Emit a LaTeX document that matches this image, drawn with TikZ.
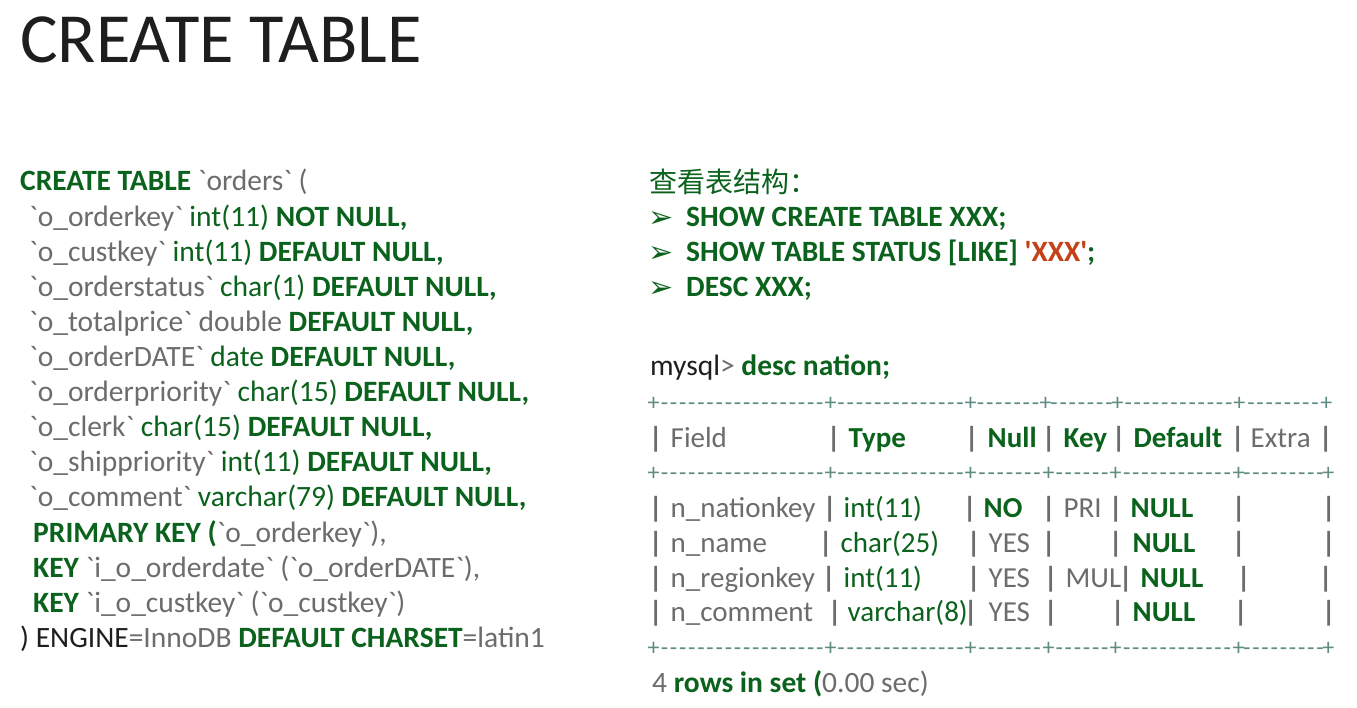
\documentclass[tikz,border=0pt]{standalone}
\usepackage{fontspec}
\setmainfont{Carlito}[Ligatures=TeXOff]
\newfontfamily\cjk{Noto Sans CJK SC}
\newfontfamily\dejavu{DejaVu Sans}
\definecolor{gr}{RGB}{10,98,28}
\definecolor{gy}{RGB}{108,108,108}
\definecolor{dk}{RGB}{30,30,30}
\definecolor{rd}{RGB}{196,64,22}
\definecolor{dashc}{RGB}{95,140,130}
\newcommand\B[1]{\textcolor{gr}{\bfseries #1}}
\newcommand\G[1]{\textcolor{gr}{#1}}
\newcommand\R[1]{\textcolor{gy}{#1}}
\newcommand\vb[1]{\rlap{\hspace*{#1pt}\makebox[0pt]{\textcolor{gy}{\bfseries|}}}}
\newcommand\tx[2]{\rlap{\hspace*{#1pt}#2}}
\newcommand\dseg[2]{\rlap{\hspace*{#1pt}\makebox[0pt]{+}}\rlap{\hspace*{#1pt}\hbox to \dimexpr#2pt-#1pt\relax{\hskip3pt\cleaders\hbox{\kern0.9pt-\kern0.9pt}\hfill\hskip3pt}}}
\newcommand\dplus[1]{\rlap{\hspace*{#1pt}\makebox[0pt]{+}}}
\tikzset{
  txt/.style={anchor=base west, inner sep=0pt, font=\fontsize{29.5}{32}\selectfont},
  tbl/.style={anchor=base west, inner sep=0pt, font=\fontsize{29}{32}\selectfont},
  dashrow/.style={anchor=base west, inner sep=0pt, font=\fontsize{24}{28}\selectfont, text=dashc},
  bul/.style={anchor=base west, inner sep=0pt, font=\dejavu\fontsize{30}{32}\selectfont, text=gr},
}
\begin{document}
\begin{tikzpicture}[x=1pt,y=-1pt]
\useasboundingbox[fill=white] (0,0) rectangle (1357,708);
% title
\node[anchor=base west, inner sep=0pt, font=\fontsize{70.5}{80}\selectfont, text=dk] (title) at (20,63) {CREATE TABLE};
% left code
\node[txt] (l0) at (20,191) {\B{CREATE TABLE} \R{`orders` (}};
\node[txt] (l1) at (29,226.1) {\R{`o\_orderkey`} \G{int(11)} \B{NOT NULL,}};
\node[txt] (l2) at (29,261.2) {\R{`o\_custkey`} \G{int(11)} \B{DEFAULT NULL,}};
\node[txt] (l3) at (29,296.3) {\R{`o\_orderstatus`} \G{char(1)} \B{DEFAULT NULL,}};
\node[txt] (l4) at (29,331.4) {\R{`o\_totalprice` double} \B{DEFAULT NULL,}};
\node[txt] (l5) at (29,366.5) {\R{`o\_orderDATE`} \G{date} \B{DEFAULT NULL,}};
\node[txt] (l6) at (29,401.6) {\R{`o\_orderpriority`} \G{char(15)} \B{DEFAULT NULL,}};
\node[txt] (l7) at (29,436.7) {\R{`o\_clerk`} \G{char(15)} \B{DEFAULT NULL,}};
\node[txt] (l8) at (29,471.8) {\R{`o\_shippriority`} \G{int(11)} \B{DEFAULT NULL,}};
\node[txt] (l9) at (29,506.9) {\R{`o\_comment`} \G{varchar(79)} \B{DEFAULT NULL,}};
\node[txt] (l10) at (33,542) {\B{PRIMARY KEY (}\R{`o\_orderkey`),}};
\node[txt] (l11) at (33,577.1) {\B{KEY} \R{`i\_o\_orderdate` (`o\_orderDATE`),}};
\node[txt] (l12) at (33,612.2) {\B{KEY} \R{`i\_o\_custkey` (`o\_custkey`)}};
\node[txt] (l13) at (20,647.3) {\textcolor{dk}{) ENGINE}\R{=InnoDB} \B{DEFAULT CHARSET}\R{=latin1}};
% right column
\node[anchor=base west, inner sep=0pt, font=\cjk\fontsize{28}{30}\selectfont, text=gr] (cn) at (649,193) {查看表结构：};
\node[bul] (b1) at (648,228) {➢};
\node[bul] (b2) at (648,263) {➢};
\node[bul] (b3) at (648,298) {➢};
\node[txt] (c1) at (686,227) {\B{SHOW CREATE TABLE XXX;}};
\node[txt] (c2) at (686,262) {\B{SHOW TABLE STATUS [LIKE]} \textcolor{rd}{\bfseries 'XXX'}\B{;}};
\node[txt] (c3) at (686,297) {\B{DESC XXX;}};
\node[txt] (my) at (650,376) {\textcolor{dk}{mysql}\R{>} \B{desc nation;}};
% table
\node[dashrow] (d1) at (0,410) {\dseg{653}{830}\dseg{830}{970}\dseg{970}{1045}\dseg{1045}{1117}\dseg{1117}{1239}\dseg{1239}{1326}\dplus{1326}};
\node[tbl] (h) at (0,447) {\vb{655}\tx{670}{\R{Field}}\vb{833}\tx{848}{\B{Type}}\vb{971}\tx{987}{\B{Null}}\vb{1048}\tx{1063}{\B{Key}}\vb{1118}\tx{1133}{\B{Default}}\vb{1237}\tx{1250}{\R{Extra}}\vb{1325}};
\node[dashrow] (d2) at (0,480) {\dseg{653}{830}\dseg{830}{970}\dseg{970}{1048}\dseg{1048}{1115}\dseg{1115}{1238}\dseg{1238}{1328}\dplus{1328}};
\node[tbl] (r1) at (0,517) {\vb{655}\tx{670}{\R{n\_nationkey}}\vb{829}\tx{843}{\G{int(11)}}\vb{969}\tx{983}{\B{NO}}\vb{1048}\tx{1063}{\R{PRI}}\vb{1115}\tx{1130}{\B{NULL}}\vb{1238}\vb{1328}};
\node[tbl] (r2) at (0,552) {\vb{655}\tx{670}{\R{n\_name}}\vb{825}\tx{840}{\G{char(25)}}\vb{973}\tx{988}{\R{YES}}\vb{1048}\vb{1115}\tx{1132}{\B{NULL}}\vb{1238}\vb{1328}};
\node[tbl] (r3) at (0,587) {\vb{655}\tx{670}{\R{n\_regionkey}}\vb{828}\tx{843}{\G{int(11)}}\vb{973}\tx{988}{\R{YES}}\vb{1050}\tx{1065}{\R{MUL}}\vb{1125}\tx{1140}{\B{NULL}}\vb{1243}\vb{1325}};
\node[tbl] (r4) at (0,621) {\vb{655}\tx{670}{\R{n\_comment}}\vb{834}\tx{847}{\G{varchar(8)}}\vb{970}\tx{988}{\R{YES}}\vb{1050}\vb{1117}\tx{1132}{\B{NULL}}\vb{1240}\vb{1328}};
\node[dashrow] (d3) at (0,655) {\dseg{653}{830}\dseg{830}{970}\dseg{970}{1048}\dseg{1048}{1115}\dseg{1115}{1238}\dseg{1238}{1328}\dplus{1328}};
\node[txt] (rows) at (652,692) {\R{4} \B{rows in set (}\R{0.00 sec)}};
\end{tikzpicture}
\end{document}
